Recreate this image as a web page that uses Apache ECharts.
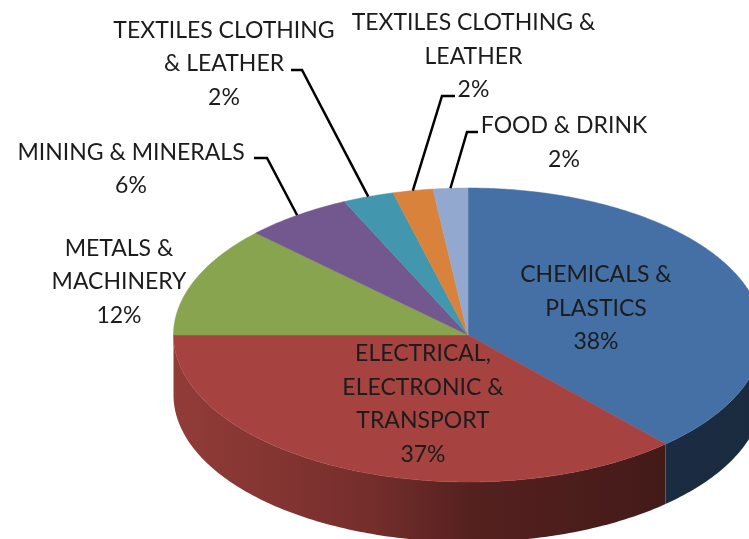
<!DOCTYPE html>
<html>
<head>
<meta charset="utf-8">
<style>
  html, body { margin: 0; padding: 0; background: #fff; }
  #main { width: 749px; height: 539px; }
</style>
<script src="https://cdn.jsdelivr.net/npm/echarts@6/dist/echarts.min.js"></script>
</head>
<body>
<div id="main"></div>
<script>
// clockwise from 12 o'clock, same order as the picture
var categories = ['CHEMICALS &\nPLASTICS', 'ELECTRICAL,\nELECTRONIC &\nTRANSPORT', 'METALS &\nMACHINERY', 'MINING & MINERALS', 'TEXTILES CLOTHING\n& LEATHER', 'TEXTILES CLOTHING &\nLEATHER', 'FOOD & DRINK'];
var shares = [38.3, 36.7, 12.2, 5.9, 2.8, 2.2, 1.9];
var percentLabels = ['38%', '37%', '12%', '6%', '2%', '2%', '2%'];

var colors = ['#4570a6', '#a64341', '#89a44e', '#72588e', '#4296ae', '#d8823c', '#93a8ce'];
var sideColors = [
  [[0, '#1a2c42'], [1, '#1a2b40']],
  [[0, '#923c38'], [0.4, '#752e2c'], [0.6, '#55211f'], [1, '#431a18']]
];

// ellipse of the top face
var cx = 468, cy = 335, rx = 294.5, ry = 147, depth = 60;

// label centres and elbows of the leader lines
var labelPos = [[596, 308.5], [423, 404], [119, 282], [131, 169], [224, 64], [473.5, 56.5], [564, 142.5]];
var elbows = [null, null, null, [[254, 158], [267, 158]], [[291, 70], [302, 70]], [[455, 96], [442, 96]], [[478, 132], [467, 132]]];

var total = shares.reduce(function (a, b) { return a + b }, 0);
var starts = [];
shares.reduce(function (sum, v, i) { starts[i] = sum; return sum + v }, 0);

function rim(deg, drop) {
  var t = deg * Math.PI / 180;
  return [cx + rx * Math.sin(t), cy - ry * Math.cos(t) + (drop || 0)];
}
function angles(i, value) {
  var a0 = starts[i] / total * 360;
  return [a0, a0 + value / total * 360];
}

function renderSide(params, api) {
  var i = params.dataIndex;
  // only the front half of the rim shows a wall
  if (!sideColors[i]) return null;
  var a = angles(i, api.value(1));
  var from = Math.max(a[0], 90), to = Math.min(a[1], 270);
  var pts = [], back = [];
  for (var d = from; d < to; d += 1) {
    pts.push(rim(d));
    back.unshift(rim(d, depth));
  }
  pts.push(rim(to));
  back.unshift(rim(to, depth));
  return {
    type: 'polygon',
    shape: { points: pts.concat(back) },
    style: { fill: new echarts.graphic.LinearGradient(0, 0, 1, 0, sideColors[i].map(function (s) { return { offset: s[0], color: s[1] } })) }
  };
}

function renderTop(params, api) {
  var i = params.dataIndex;
  var a = angles(i, api.value(1));
  var pts = [[cx, cy]];
  for (var d = a[0]; d < a[1]; d += 0.5) pts.push(rim(d));
  pts.push(rim(a[1]));
  return {
    type: 'polygon',
    shape: { points: pts },
    style: { fill: colors[i], stroke: colors[i], lineWidth: 0.5 }
  };
}

function renderLabel(params, api) {
  var i = params.dataIndex;
  var a = angles(i, api.value(1));
  var children = [{
    type: 'text',
    x: labelPos[i][0],
    y: labelPos[i][1],
    style: {
      text: categories[i] + '\n' + percentLabels[i],
      font: '23px Lato',
      lineHeight: 33.5,
      fill: '#1c1c1c',
      align: 'center',
      verticalAlign: 'middle'
    }
  }];
  if (elbows[i]) {
    children.unshift({
      type: 'polyline',
      shape: { points: elbows[i].concat([rim((a[0] + a[1]) / 2)]) },
      style: { fill: null, stroke: '#000', lineWidth: 2.5 }
    });
  }
  return { type: 'group', children: children };
}

var rows = categories.map(function (name, i) { return [i, shares[i]] });

var chart = echarts.init(document.getElementById('main'));
chart.setOption({
  animation: false,
  series: [
    { type: 'custom', coordinateSystem: 'none', data: rows, renderItem: renderSide, z: 1 },
    { type: 'custom', coordinateSystem: 'none', data: rows, renderItem: renderTop, z: 2 },
    { type: 'custom', coordinateSystem: 'none', data: rows, renderItem: renderLabel, z: 3 }
  ]
});
</script>
</body>
</html>
